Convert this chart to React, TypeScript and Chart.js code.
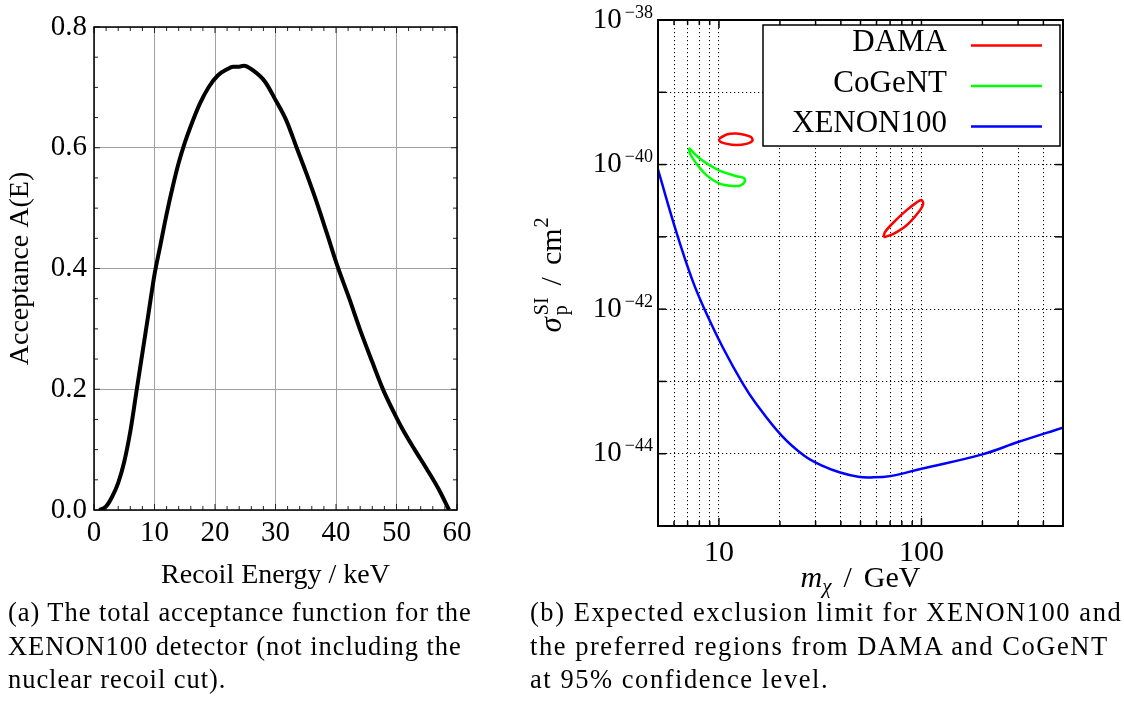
import React, { useEffect, useRef } from 'react';
import { Chart, registerables } from 'chart.js';

Chart.register(...registerables);

const FONT = '"Liberation Serif", "Times New Roman", serif';

// ---------- Panel (a): acceptance function ----------
const recoilEnergy = [0.9, 2.0, 3.0, 4.0, 5.0, 6.0, 7.0, 8.0, 9.0, 10.0, 11.0, 12.0, 13.0, 14.0, 15.0, 16.0, 17.5, 19.0, 20.5, 22.0, 23.0, 24.0, 24.8, 26.3, 28.3, 29.9, 31.8, 33.5, 35.2, 36.8, 38.5, 40.1, 42.2, 44.0, 46.0, 47.8, 49.5, 51.1, 53.0, 55.0, 57.0, 58.7];
const acceptance = [0, 0.006, 0.022, 0.045, 0.08, 0.13, 0.195, 0.26, 0.325, 0.39, 0.44, 0.49, 0.535, 0.575, 0.608, 0.636, 0.673, 0.701, 0.72, 0.73, 0.734, 0.734, 0.736, 0.728, 0.709, 0.681, 0.645, 0.6, 0.555, 0.51, 0.458, 0.408, 0.35, 0.298, 0.245, 0.199, 0.163, 0.132, 0.1, 0.068, 0.034, 0];
const accXTicks = [0, 10, 20, 30, 40, 50, 60];
const accYTicks = [0, 0.2, 0.4, 0.6, 0.8];
const accXMinor = [2, 4, 6, 8, 12, 14, 16, 18, 22, 24, 26, 28, 32, 34, 36, 38, 42, 44, 46, 48, 52, 54, 56, 58];
const accYMinor = [0.05, 0.1, 0.15, 0.25, 0.3, 0.35, 0.45, 0.5, 0.55, 0.65, 0.7, 0.75];
const accXTitle = 'Recoil Energy / keV';
const accYTitle = 'Acceptance A(E)';

// ---------- Panel (b): exclusion limit ----------
const xenonMass = [5.0, 6.2, 7.4, 8.55, 10.45, 13.05, 15.1, 20.4, 26.5, 32.5, 39.7, 48.7, 56, 70, 100, 200, 300, 500];
const xenonSigma = [8.5e-41, 1.1e-41, 2.5e-42, 9.5e-43, 2.95e-43, 9.55e-44, 5.13e-44, 1.78e-44, 9.3e-45, 6.8e-45, 5.5e-45, 4.8e-45, 4.7e-45, 4.9e-45, 6.2e-45, 9.8e-45, 1.45e-44, 2.3e-44];

const damaLowMass = [10.0, 11.0, 12.2, 13.5, 14.4, 14.65, 13.8, 12.2, 10.8, 10.1, 10.0];
const damaLowSigma = [2.29e-40, 2.63e-40, 2.69e-40, 2.57e-40, 2.4e-40, 2.14e-40, 1.95e-40, 1.86e-40, 1.95e-40, 2.09e-40, 2.29e-40];

const damaHighMass = [64.9, 66.1, 72.7, 84.5, 94.8, 100, 102, 98.4, 84.5, 72.7, 66.1, 64.9];
const damaHighSigma = [1.0e-41, 1.17e-41, 1.58e-41, 2.34e-41, 3.0e-41, 3.24e-41, 2.88e-41, 2.34e-41, 1.45e-41, 1.1e-41, 1.0e-41, 1.0e-41];

const cogentMass = [7.1, 8.06, 10.0, 12.2, 13.3, 13.4, 12.7, 11.3, 10.0, 8.7, 7.76, 7.2, 7.1];
const cogentSigma = [1.7e-40, 1.2e-40, 8.3e-41, 6.9e-41, 6.5e-41, 5.75e-41, 5.1e-41, 5.1e-41, 5.5e-41, 7.1e-41, 1.02e-40, 1.41e-40, 1.7e-40];

const massGrid = [5, 6, 7, 8, 9, 10, 20, 30, 40, 50, 60, 70, 80, 90, 100, 200, 300, 400, 500];
const massLabels = [10, 100];
const sigmaDecades = [-45, -44, -43, -42, -41, -40, -39, -38];
const sigmaLabelExps = [-38, -40, -42, -44];

const legendLabels = ['DAMA', 'CoGeNT', 'XENON100'];
const legendColors = ['#ff0000', '#00ff00', '#0000ff'];

const captionA = ['(a) The total acceptance function for the', 'XENON100 detector (not including the', 'nuclear recoil cut).'];
const captionB = ['(b) Expected exclusion limit for XENON100 and', 'the preferred regions from DAMA and CoGeNT', 'at 95% confidence level.'];

// ---------- helpers ----------
type Seg = { t: string; size: number; italic?: boolean; rise?: number; stack?: boolean; gap?: number };
const segFont = (s: Seg) => `${s.italic ? 'italic ' : ''}${s.size}px ${FONT}`;

function drawSegs(ctx: CanvasRenderingContext2D, segs: Seg[], x: number, y: number, align: 'left' | 'right' | 'center') {
  const items: { s: Seg; start: number }[] = [];
  let cur = 0, prevStart = 0, prevW = 0;
  for (const s of segs) {
    ctx.font = segFont(s);
    const w = ctx.measureText(s.t).width;
    let start: number;
    if (s.stack) {
      start = prevStart;
      cur = prevStart + Math.max(prevW, w);
    } else {
      start = cur + (s.gap || 0);
      cur = start + w;
    }
    items.push({ s, start });
    prevStart = start;
    prevW = w;
  }
  const x0 = align === 'left' ? x : align === 'right' ? x - cur : x - cur / 2;
  ctx.textAlign = 'left';
  ctx.textBaseline = 'alphabetic';
  for (const { s, start } of items) {
    ctx.font = segFont(s);
    ctx.fillText(s.t, x0 + start, y - (s.rise || 0));
  }
}

function line(ctx: CanvasRenderingContext2D, x1: number, y1: number, x2: number, y2: number) {
  ctx.beginPath();
  ctx.moveTo(x1, y1);
  ctx.lineTo(x2, y2);
  ctx.stroke();
}

const zip = (xs: number[], ys: number[]) => xs.map((x, i) => ({ x, y: ys[i] }));

// ---------- Panel (a) chart ----------
const accFramePlugin = {
  id: 'accFrame',
  afterDraw(chart: any) {
    const { ctx, chartArea } = chart;
    const { left, right, top, bottom } = chartArea;
    const xs = chart.scales.x, ys = chart.scales.y;
    ctx.save();
    ctx.strokeStyle = '#222';
    ctx.lineWidth = 1;
    for (const v of accXMinor) {
      const p = xs.getPixelForValue(v);
      line(ctx, p, bottom, p, bottom - 4);
      line(ctx, p, top, p, top + 4);
    }
    for (const v of accXTicks) {
      const p = xs.getPixelForValue(v);
      line(ctx, p, bottom, p, bottom - 6);
      line(ctx, p, top, p, top + 6);
    }
    for (const v of accYMinor) {
      const p = ys.getPixelForValue(v);
      line(ctx, left, p, left + 4, p);
      line(ctx, right, p, right - 4, p);
    }
    for (const v of accYTicks) {
      const p = ys.getPixelForValue(v);
      line(ctx, left, p, left + 6, p);
      line(ctx, right, p, right - 6, p);
    }
    ctx.strokeStyle = '#000';
    ctx.lineWidth = 1.5;
    ctx.strokeRect(left, top, right - left, bottom - top);
    ctx.restore();
  },
};

function AcceptanceChart() {
  const ref = useRef<HTMLCanvasElement>(null);
  useEffect(() => {
    const chart = new Chart(ref.current as HTMLCanvasElement, {
      type: 'line',
      data: {
        datasets: [
          {
            data: zip(recoilEnergy, acceptance),
            borderColor: '#000',
            borderWidth: 4,
            pointRadius: 0,
            cubicInterpolationMode: 'monotone',
            fill: false,
          },
        ],
      },
      options: {
        responsive: false,
        animation: false,
        devicePixelRatio: 1,
        layout: { padding: { left: 0, top: 27, right: 23, bottom: 0 } },
        plugins: { legend: { display: false }, tooltip: { enabled: false } },
        scales: {
          x: {
            type: 'linear',
            min: 0,
            max: 60,
            afterBuildTicks: (s: any) => { s.ticks = accXTicks.map((v) => ({ value: v })); },
            afterFit: (s: any) => { s.height = 90; },
            grid: { color: '#a0a0a0', lineWidth: 1, drawTicks: false },
            border: { display: false },
            ticks: { font: { family: FONT, size: 29 }, color: '#000', padding: 6, maxRotation: 0, autoSkip: false },
            title: { display: true, text: accXTitle, font: { family: FONT, size: 28 }, color: '#000', padding: { top: 0, bottom: 8 } },
          },
          y: {
            type: 'linear',
            min: 0,
            max: 0.8,
            afterBuildTicks: (s: any) => { s.ticks = accYTicks.map((v) => ({ value: v })); },
            afterFit: (s: any) => { s.width = 94; },
            grid: { color: '#a0a0a0', lineWidth: 1, drawTicks: false },
            border: { display: false },
            ticks: { font: { family: FONT, size: 29 }, color: '#000', padding: 7, callback: (v: any) => Number(v).toFixed(1) },
            title: { display: true, text: accYTitle, font: { family: FONT, size: 28 }, color: '#000', padding: { top: 4, bottom: 0 } },
          },
        },
      },
      plugins: [accFramePlugin],
    } as any);
    return () => chart.destroy();
  }, []);
  return <canvas ref={ref} width={480} height={600} style={{ display: 'block' }} />;
}

// ---------- Panel (b) chart ----------
const exclusionPlugin = {
  id: 'exclusionDecor',
  afterDraw(chart: any) {
    const { ctx, chartArea } = chart;
    const { left, right, top, bottom } = chartArea;
    const xs = chart.scales.x, ys = chart.scales.y;
    ctx.save();
    ctx.strokeStyle = '#000';
    ctx.lineWidth = 1.5;
    for (const v of massGrid) {
      const p = xs.getPixelForValue(v);
      const len = massLabels.includes(v) ? 8 : 5;
      line(ctx, p, bottom, p, bottom - len);
      line(ctx, p, top, p, top + len);
    }
    for (const e of sigmaDecades) {
      const p = ys.getPixelForValue(Math.pow(10, e));
      line(ctx, left, p, left + 8, p);
      line(ctx, right, p, right - 8, p);
    }
    ctx.lineWidth = 2;
    ctx.strokeRect(left, top, right - left, bottom - top);

    ctx.fillStyle = '#000';
    for (const e of sigmaLabelExps) {
      const p = ys.getPixelForValue(Math.pow(10, e));
      drawSegs(ctx, [
        { t: '10', size: 29 },
        { t: '\u2212' + Math.abs(e), size: 18, rise: 10, gap: 3 },
      ], left - 5, p + 7.6, 'right');
    }
    drawSegs(ctx, [
      { t: 'm', size: 30, italic: true },
      { t: '\u03c7', size: 21, italic: true, rise: -6 },
      { t: '/', size: 30, gap: 12 },
      { t: 'GeV', size: 30, gap: 12 },
    ], (left + right) / 2, 586.5, 'center');
    ctx.save();
    ctx.translate(41, 275);
    ctx.rotate(-Math.PI / 2);
    drawSegs(ctx, [
      { t: '\u03c3', size: 31, italic: true },
      { t: 'SI', size: 20, rise: 13, gap: 2 },
      { t: 'p', size: 20, rise: -6, stack: true },
      { t: '/', size: 30, gap: 12 },
      { t: 'cm', size: 30, gap: 12 },
      { t: '2', size: 20, rise: 13, gap: 1 },
    ], 0, 0, 'center');
    ctx.restore();

    const bx = 243, by = 25, bw = 297, bh = 121;
    ctx.fillStyle = '#fff';
    ctx.fillRect(bx, by, bw, bh);
    ctx.strokeStyle = '#000';
    ctx.lineWidth = 1.5;
    ctx.strokeRect(bx, by, bw, bh);
    ctx.font = `31px ${FONT}`;
    ctx.textAlign = 'right';
    ctx.textBaseline = 'middle';
    legendLabels.forEach((lab, i) => {
      const cy = by + 18 + i * 40.5;
      ctx.fillStyle = '#000';
      ctx.fillText(lab, 427, cy);
      ctx.strokeStyle = legendColors[i];
      ctx.lineWidth = 2.5;
      line(ctx, 451, cy + 2.5, 522, cy + 2.5);
    });
    ctx.restore();
  },
};

function ExclusionChart() {
  const ref = useRef<HTMLCanvasElement>(null);
  useEffect(() => {
    const common = { showLine: true, pointRadius: 0, borderWidth: 2.5, fill: false };
    const chart = new Chart(ref.current as HTMLCanvasElement, {
      type: 'scatter',
      data: {
        datasets: [
          { ...common, label: legendLabels[2], data: zip(xenonMass, xenonSigma), borderColor: legendColors[2], tension: 0.4 },
          { ...common, label: legendLabels[0], data: zip(damaLowMass, damaLowSigma), borderColor: legendColors[0], tension: 0.3 },
          { ...common, label: legendLabels[0], data: zip(damaHighMass, damaHighSigma), borderColor: legendColors[0], tension: 0.3 },
          { ...common, label: legendLabels[1], data: zip(cogentMass, cogentSigma), borderColor: legendColors[1], tension: 0.3 },
        ],
      },
      options: {
        responsive: false,
        animation: false,
        devicePixelRatio: 1,
        layout: { padding: { left: 0, top: 20, right: 61, bottom: 0 } },
        plugins: { legend: { display: false }, tooltip: { enabled: false } },
        scales: {
          x: {
            type: 'logarithmic',
            min: 5,
            max: 500,
            afterBuildTicks: (s: any) => { s.ticks = massGrid.map((v) => ({ value: v })); },
            afterFit: (s: any) => { s.height = 74; },
            grid: { color: '#000', lineWidth: 1, drawTicks: false },
            border: { display: false, dash: [1.2, 2.8] },
            ticks: {
              autoSkip: false,
              maxRotation: 0,
              font: { family: FONT, size: 30 },
              color: '#000',
              padding: 9,
              callback: (v: any) => (massLabels.includes(Number(v)) ? String(v) : ''),
            },
          },
          y: {
            type: 'logarithmic',
            min: 1e-45,
            max: 1e-38,
            afterBuildTicks: (s: any) => { s.ticks = sigmaDecades.map((e) => ({ value: Math.pow(10, e) })); },
            afterFit: (s: any) => { s.width = 138; },
            grid: { color: '#000', lineWidth: 1, drawTicks: false },
            border: { display: false, dash: [1.2, 2.8] },
            ticks: { display: false },
          },
        },
      },
      plugins: [exclusionPlugin],
    } as any);
    return () => chart.destroy();
  }, []);
  return <canvas ref={ref} width={604} height={600} style={{ display: 'block' }} />;
}

const captionStyle = (left: number, spacing: number): React.CSSProperties => ({
  position: 'absolute',
  left,
  top: 596,
  fontFamily: FONT,
  fontSize: 26.5,
  lineHeight: '33.5px',
  letterSpacing: `${spacing}px`,
  whiteSpace: 'nowrap',
  color: '#000',
});

export default function App() {
  return (
    <div style={{ position: 'absolute', left: 0, top: 0, width: 1124, height: 702, background: '#fff', overflow: 'hidden' }}>
      <div style={{ position: 'absolute', left: 0, top: 0, width: 480, height: 600 }}>
        <AcceptanceChart />
      </div>
      <div style={{ position: 'absolute', left: 520, top: 0, width: 604, height: 600 }}>
        <ExclusionChart />
      </div>
      <div style={captionStyle(8, 0.95)}>
        {captionA.map((l, i) => <div key={i}>{l}</div>)}
      </div>
      <div style={captionStyle(530, 1.55)}>
        {captionB.map((l, i) => <div key={i}>{l}</div>)}
      </div>
    </div>
  );
}
